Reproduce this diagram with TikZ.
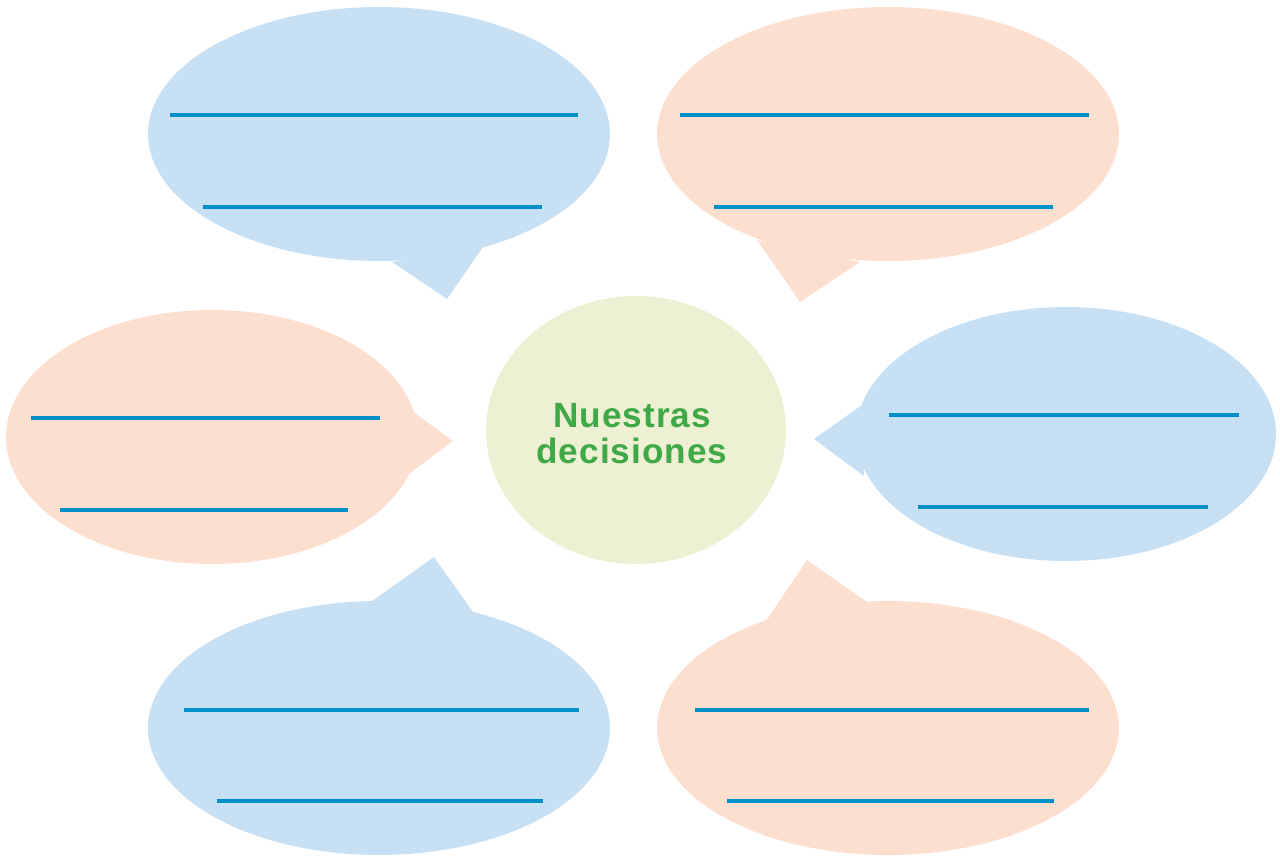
\documentclass[tikz,border=0pt]{standalone}
\usepackage{fontspec}
\setmainfont{Liberation Sans}
\definecolor{bubbleblue}{HTML}{C8E0F4}
\definecolor{bubblepeach}{HTML}{FDDFD0}
\definecolor{centergreen}{HTML}{EEF0D3}
\definecolor{titlegreen}{HTML}{3FA847}
\definecolor{writeline}{HTML}{0090C8}
\tikzset{
  blueb/.style={fill=bubbleblue},
  peachb/.style={fill=bubblepeach},
  wline/.style={draw=writeline, line width=1.9pt},
}
\begin{document}
\begin{tikzpicture}[x=0.02cm,y=-0.02cm]
    \useasboundingbox (0,0) rectangle (1280,855);

    % Top-left bubble
    \fill[blueb] (392,262) -- (447,299) -- (483,247) -- cycle;
    \fill[blueb] (379,134) ellipse (4.62cm and 2.54cm);
    \draw[wline] (170,115) -- (578,115);
    \draw[wline] (203,207) -- (542,207);

    % Top-right bubble
    \fill[peachb] (757,240) -- (800,302) -- (860,262) -- cycle;
    \fill[peachb] (888,134) ellipse (4.62cm and 2.54cm);
    \draw[wline] (680,115) -- (1089,115);
    \draw[wline] (714,207) -- (1053,207);

    % Middle-left bubble
    \fill[peachb] (412,411) -- (453,441) -- (410,473) -- cycle;
    \fill[peachb] (212,437) ellipse (4.12cm and 2.54cm);
    \draw[wline] (31,418) -- (380,418);
    \draw[wline] (60,510) -- (348,510);

    % Middle-right bubble
    \fill[blueb] (862,405) -- (814,439) -- (864,476) -- cycle;
    \fill[blueb] (1066,434) ellipse (4.2cm and 2.54cm);
    \draw[wline] (889,415) -- (1239,415);
    \draw[wline] (918,507) -- (1208,507);

    % Bottom-left bubble
    \fill[blueb] (372,601) -- (434,557) -- (473,612) -- cycle;
    \fill[blueb] (379,728) ellipse (4.62cm and 2.54cm);
    \draw[wline] (184,710) -- (579,710);
    \draw[wline] (217,801) -- (543,801);

    % Bottom-right bubble
    \fill[peachb] (766,621) -- (807,560) -- (867,602) -- cycle;
    \fill[peachb] (888,728) ellipse (4.62cm and 2.54cm);
    \draw[wline] (695,710) -- (1089,710);
    \draw[wline] (727,801) -- (1054,801);

    % Centre
    \fill[centergreen] (636,430) ellipse (3cm and 2.68cm);
    \node[text=titlegreen, font=\bfseries\fontsize{20}{20.5}\selectfont\addfontfeatures{LetterSpace=3}, align=center]
      (title) at (632,434) {Nuestras\\decisiones};
\end{tikzpicture}
\end{document}
